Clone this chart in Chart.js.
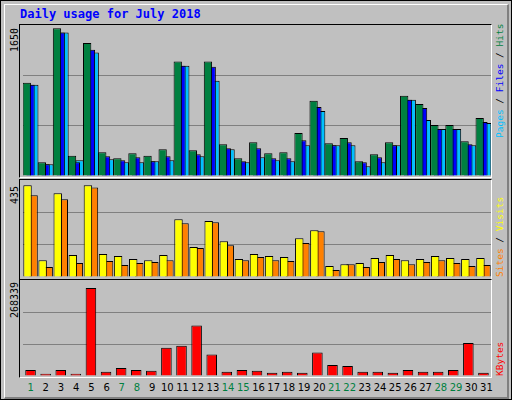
<!DOCTYPE html>
<html><head><meta charset="utf-8">
<script src="https://cdn.jsdelivr.net/npm/chart.js@4"></script>
<style>
body{margin:0;background:#fff}
#frame{position:absolute;left:0;top:0;width:510px;height:398px;background:#C0C0C0;border:1px solid #000}
#inner{position:absolute;left:3px;top:3px;width:502px;height:392px;border-right:2px solid #808080;border-bottom:2px solid #808080;border-left:1px solid #fff;border-top:1px solid #fff}
.panel{position:absolute;left:19px;width:471px;border-top:1px solid #000;border-left:1px solid #000;border-right:1px solid #fff;border-bottom:1px solid #fff}
canvas{position:absolute}
.t{position:absolute;font-family:"DejaVu Sans Mono",monospace;white-space:nowrap}
.rot{transform-origin:0 0;transform:rotate(-90deg)}
.day{position:absolute;top:382px;font-family:"DejaVu Sans",sans-serif;font-size:10px;width:16px;text-align:center}
</style></head><body>
<div id="frame"><div id="inner"></div></div>
<div class="t" style="left:20px;top:7px;font-size:12px;font-weight:bold;color:#0000FF">Daily usage for July 2018</div>
<div class="panel" style="top:24px;height:152px"></div>
<div class="panel" style="top:179px;height:99px"></div>
<div class="panel" style="top:279px;height:97px"></div>
<canvas id="c1" style="left:20px;top:25px" width="471" height="151"></canvas>
<canvas id="c2" style="left:20px;top:180px" width="471" height="97"></canvas>
<canvas id="c3" style="left:20px;top:280px" width="471" height="96"></canvas>
<div class="t rot" style="left:9px;top:52px;font-size:10px;color:#000">1650</div>
<div class="t rot" style="left:9px;top:204px;font-size:10px;color:#000">435</div>
<div class="t rot" style="left:9px;top:318px;font-size:10px;color:#000">268339</div>
<div class="t rot" style="left:494px;top:138px;font-size:9.5px"><span style="color:#00C0FF">Pages</span> / <span style="color:#0000FF">Files</span> / <span style="color:#008040">Hits</span></div>
<div class="t rot" style="left:494px;top:277px;font-size:9.5px"><span style="color:#FF8000">Sites</span> / <span style="color:#FFFF00">Visits</span></div>
<div class="t rot" style="left:494px;top:376px;font-size:9.5px;color:#FF0000">KBytes</div>
<div id="days"></div>
<script>
const days=["1","2","3","4","5","6","7","8","9","10","11","12","13","14","15","16","17","18","19","20","21","22","23","24","25","26","27","28","29","30","31"];
const weekend=["1","7","8","14","15","21","22","28","29"];
const hits=[1020,151,1614,220,1452,260,194,249,220,293,1251,282,1251,348,194,370,249,260,469,821,359,414,162,238,370,876,788,557,557,381,634];
const files=[997,128,1569,150,1379,216,172,205,161,216,1206,238,1195,304,161,304,194,194,392,755,337,370,150,205,337,832,744,513,513,348,590];
const pages=[997,128,1569,172,1349,183,150,150,161,172,1206,216,1041,293,150,205,172,161,337,711,337,337,106,150,337,832,612,513,513,337,579];
const sites=[435,80,397,104,435,109,99,85,80,104,274,142,265,170,85,109,99,95,184,222,52,61,66,90,104,80,85,99,90,85,90];
const visits=[388,47,369,66,425,76,57,66,71,80,255,137,260,151,80,95,80,76,161,217,33,61,47,71,85,61,71,80,66,52,57];
const kbytes=[17800,6600,17800,6600,257000,12200,23500,17800,15000,82500,88200,147300,62800,12200,17800,15000,9400,12200,9400,68500,31900,29100,12200,12200,9400,17800,12200,12200,17800,96600,9400];
const dd=document.getElementById('days');
days.forEach((d,i)=>{const e=document.createElement('div');e.className='day';e.textContent=d;e.style.left=(20+471/31*(i+0.5)-8+3)+'px';e.style.color=weekend.includes(d)?'#008040':'#000';dd.appendChild(e);});
function mk(id,sets,max,cp,bp){
 new Chart(document.getElementById(id),{type:'bar',
  data:{labels:days,datasets:sets.map(s=>({data:s.d,backgroundColor:s.c,borderColor:'#000',borderWidth:1,borderSkipped:'bottom',barPercentage:bp,categoryPercentage:cp}))},
  options:{responsive:false,animation:false,events:[],layout:{padding:{left:3,right:-3}},
   plugins:{legend:{display:false},tooltip:{enabled:false}},
   scales:{x:{display:false},
    y:{min:0,max:max,ticks:{display:false,stepSize:max/3},border:{display:false},
     grid:{drawTicks:false,color:c=>(c.index===1||c.index===2)?'#808080':'rgba(0,0,0,0)'}}}}});
}
mk('c1',[{d:hits,c:'#008040'},{d:files,c:'#0000FF'},{d:pages,c:'#00C0FF'}],1650,0.75,2.2);
mk('c2',[{d:sites,c:'#FFFF00'},{d:visits,c:'#FF8000'}],460,0.8,1.4);
mk('c3',[{d:kbytes,c:'#FF0000'}],280000,0.7,1);
</script></body></html>
